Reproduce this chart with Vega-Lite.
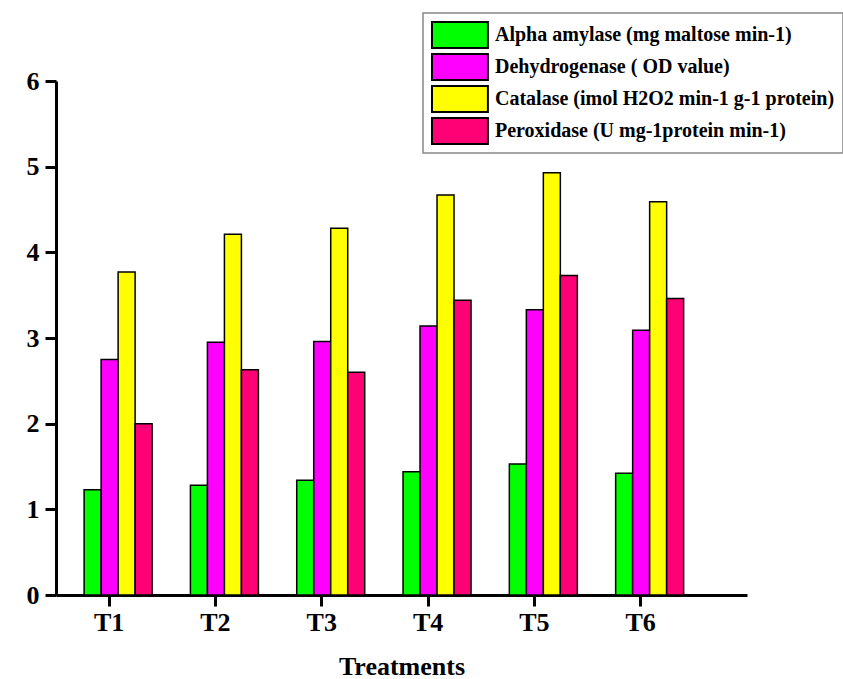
{
  "$schema": "https://vega.github.io/schema/vega-lite/v6.json",
  "width": 691,
  "height": 514,
  "autosize": {"type": "none"},
  "padding": {"left": 56, "top": 81, "right": 96, "bottom": 84},
  "background": "white",
  "config": {
    "view": {"stroke": null},
    "font": "Liberation Serif"
  },
  "data": {
    "values": [
      {"treatment": "T1", "enzyme": "Alpha amylase (mg maltose min-1)", "value": 1.23},
      {"treatment": "T1", "enzyme": "Dehydrogenase ( OD value)", "value": 2.75},
      {"treatment": "T1", "enzyme": "Catalase (imol H2O2 min-1 g-1 protein)", "value": 3.77},
      {"treatment": "T1", "enzyme": "Peroxidase (U mg-1protein min-1)", "value": 2.00},
      {"treatment": "T2", "enzyme": "Alpha amylase (mg maltose min-1)", "value": 1.28},
      {"treatment": "T2", "enzyme": "Dehydrogenase ( OD value)", "value": 2.95},
      {"treatment": "T2", "enzyme": "Catalase (imol H2O2 min-1 g-1 protein)", "value": 4.21},
      {"treatment": "T2", "enzyme": "Peroxidase (U mg-1protein min-1)", "value": 2.63},
      {"treatment": "T3", "enzyme": "Alpha amylase (mg maltose min-1)", "value": 1.34},
      {"treatment": "T3", "enzyme": "Dehydrogenase ( OD value)", "value": 2.96},
      {"treatment": "T3", "enzyme": "Catalase (imol H2O2 min-1 g-1 protein)", "value": 4.28},
      {"treatment": "T3", "enzyme": "Peroxidase (U mg-1protein min-1)", "value": 2.60},
      {"treatment": "T4", "enzyme": "Alpha amylase (mg maltose min-1)", "value": 1.44},
      {"treatment": "T4", "enzyme": "Dehydrogenase ( OD value)", "value": 3.14},
      {"treatment": "T4", "enzyme": "Catalase (imol H2O2 min-1 g-1 protein)", "value": 4.67},
      {"treatment": "T4", "enzyme": "Peroxidase (U mg-1protein min-1)", "value": 3.44},
      {"treatment": "T5", "enzyme": "Alpha amylase (mg maltose min-1)", "value": 1.53},
      {"treatment": "T5", "enzyme": "Dehydrogenase ( OD value)", "value": 3.33},
      {"treatment": "T5", "enzyme": "Catalase (imol H2O2 min-1 g-1 protein)", "value": 4.93},
      {"treatment": "T5", "enzyme": "Peroxidase (U mg-1protein min-1)", "value": 3.73},
      {"treatment": "T6", "enzyme": "Alpha amylase (mg maltose min-1)", "value": 1.42},
      {"treatment": "T6", "enzyme": "Dehydrogenase ( OD value)", "value": 3.09},
      {"treatment": "T6", "enzyme": "Catalase (imol H2O2 min-1 g-1 protein)", "value": 4.59},
      {"treatment": "T6", "enzyme": "Peroxidase (U mg-1protein min-1)", "value": 3.46}
    ]
  },
  "mark": {"type": "bar", "stroke": "black", "strokeWidth": 1.5},
  "encoding": {
    "x": {
      "field": "treatment",
      "type": "nominal",
      "scale": {"paddingInner": 0.36, "paddingOuter": 0.43, "align": 0.209},
      "axis": {
        "title": "Treatments",
        "labelAngle": 0,
        "domainColor": "black",
        "domainWidth": 3,
        "tickColor": "black",
        "tickWidth": 3,
        "tickSize": 11,
        "labelFont": "Liberation Serif",
        "labelFontWeight": "bold",
        "labelFontSize": 26,
        "labelColor": "black",
        "labelPadding": 3,
        "titleFont": "Liberation Serif",
        "titleFontWeight": "bold",
        "titleFontSize": 26,
        "titleColor": "black",
        "titlePadding": 18
      }
    },
    "xOffset": {
      "field": "enzyme",
      "type": "nominal",
      "sort": [
        "Alpha amylase (mg maltose min-1)",
        "Dehydrogenase ( OD value)",
        "Catalase (imol H2O2 min-1 g-1 protein)",
        "Peroxidase (U mg-1protein min-1)"
      ],
      "scale": {"range": [9, 77]}
    },
    "y": {
      "field": "value",
      "type": "quantitative",
      "scale": {"domain": [0, 6], "nice": false},
      "axis": {
        "title": null,
        "values": [0, 1, 2, 3, 4, 5, 6],
        "grid": false,
        "domainColor": "black",
        "domainWidth": 3,
        "tickColor": "black",
        "tickWidth": 3,
        "tickSize": 11,
        "labelFont": "Liberation Serif",
        "labelFontWeight": "bold",
        "labelFontSize": 26,
        "labelColor": "black",
        "labelPadding": 6
      }
    },
    "color": {
      "field": "enzyme",
      "type": "nominal",
      "sort": [
        "Alpha amylase (mg maltose min-1)",
        "Dehydrogenase ( OD value)",
        "Catalase (imol H2O2 min-1 g-1 protein)",
        "Peroxidase (U mg-1protein min-1)"
      ],
      "scale": {
        "domain": [
          "Alpha amylase (mg maltose min-1)",
          "Dehydrogenase ( OD value)",
          "Catalase (imol H2O2 min-1 g-1 protein)",
          "Peroxidase (U mg-1protein min-1)"
        ],
        "range": ["#00FF00", "#FF00FF", "#FFFF00", "#FF0075"]
      },
      "legend": {
        "title": null,
        "orient": "none",
        "legendX": 367,
        "legendY": -68,
        "symbolType": "M-1,-1H3.3V1H-1Z",
        "symbolSize": 676,
        "symbolStrokeColor": "black",
        "symbolStrokeWidth": 2,
        "symbolOpacity": 1,
        "labelFont": "Liberation Serif",
        "labelFontWeight": "bold",
        "labelFontSize": 20,
        "labelColor": "black",
        "labelLimit": 600,
        "labelOffset": 36,
        "clipHeight": 28,
        "rowPadding": 4,
        "padding": 8,
        "strokeColor": "#888888",
        "fillColor": "white",
        "encode": {
          "legend": {"update": {"strokeWidth": {"value": 1.5}}}
        }
      }
    }
  }
}
